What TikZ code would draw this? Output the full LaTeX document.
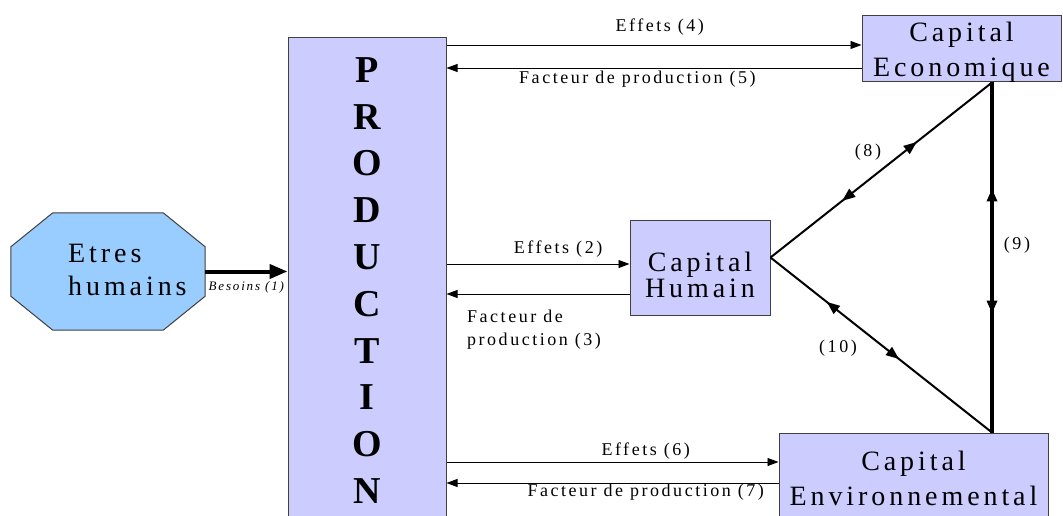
\documentclass[tikz,border=0pt]{standalone}
\usepackage{fontspec}
\setmainfont{Liberation Serif}[LetterSpace=14]
\usetikzlibrary{arrows.meta,decorations.markings}
\definecolor{boxc}{HTML}{CCCCFF}
\definecolor{octc}{HTML}{99CCFF}

\begin{document}
\begin{tikzpicture}[x=1pt,y=-1pt,
  box/.style={rectangle,draw=black!75,fill=boxc,line width=1pt,inner sep=0pt},
  big/.style={font=\fontsize{28}{35}\selectfont,align=center},
  lbl/.style={font=\fontsize{18}{22}\selectfont,inner sep=1pt},
  arr/.style={line width=0.9pt,-{Triangle[length=11pt,width=8pt]}},
  twoway/.style n args={3}{line width=#1,postaction={decorate},decoration={markings,
    mark=at position #2 with {\arrow{Triangle[reversed,length=13pt,width=10pt]}},
    mark=at position #3 with {\arrow{Triangle[length=13pt,width=10pt]}}}}]
\useasboundingbox (0,0) rectangle (1063,516);
\clip (0,0) rectangle (1063,516);

% octogone
\node[minimum width=194pt,minimum height=117pt,inner sep=0pt] (etres) at (108,271.5) {};
\draw[draw=black!75,fill=octc,line width=1pt] ([xshift=42pt]etres.north west) -- ([xshift=-42pt]etres.north east)
  -- ([yshift=-34pt]etres.north east) -- ([yshift=34pt]etres.south east) -- ([xshift=-42pt]etres.south east)
  -- ([xshift=42pt]etres.south west) -- ([yshift=34pt]etres.south west) -- ([yshift=-34pt]etres.north west) -- cycle;
\node[big,align=left,anchor=west,inner sep=0pt,font=\fontsize{28}{33}\selectfont] (etrestxt) at (68,269.5) {Etres\\humains};

% boites
\node[box,minimum width=158pt,minimum height=485pt,align=center,
  font=\bfseries\fontsize{38}{46.8}\selectfont] (prod) at (367,280.5) {P\\R\\O\\D\\U\\C\\T\\I\\O\\N};

\node[box,minimum width=199pt,minimum height=66pt,label={[big,yshift=-3pt]center:{Capital\\Economique}}] (eco) at (961.5,49) {};
\node[box,minimum width=140pt,minimum height=95pt,label={[big,font=\fontsize{28}{26}\selectfont,yshift=-7pt]center:{Capital\\Humain}}] (hum) at (700,267.5) {};
\node[box,minimum width=269pt,minimum height=90pt,label={[big]center:{Capital\\Environnemental}}] (env) at (913.5,478) {};

% besoins
\draw[line width=4pt,-{Triangle[length=18pt,width=14pt]}] (etres.east) -- (prod.west |- etres.east)
  node[lbl,midway,below=7pt,font=\itshape\fontsize{13}{15}\selectfont] {Besoins (1)};

% flux production / capitaux
\draw[arr] (prod.east |- 0,45) -- (eco.west |- 0,45) node[lbl,pos=.514,above=8pt] {Effets (4)};
\draw[arr] (eco.west |- 0,68) -- (prod.east |- 0,68) node[lbl,pos=.54,below=2pt] {Facteur de production (5)};
\draw[arr] (prod.east |- 0,264) -- (hum.west |- 0,264) node[lbl,pos=.61,above=5pt] {Effets (2)};
\draw[arr] (hum.west |- 0,294) -- (prod.east |- 0,294);
\node[lbl,align=left,anchor=north west,font=\fontsize{18}{23}\selectfont] (f3) at (466,309) {Facteur de\\production (3)};
\draw[arr] (prod.east |- 0,462) -- (env.west |- 0,462) node[lbl,pos=.6,above=1pt] {Effets (6)};
\draw[arr] (env.west |- 0,483) -- (prod.east |- 0,483) node[lbl,pos=.4,below=0pt] {Facteur de production (7)};

% triangle
\coordinate (ch) at ([yshift=10pt]hum.east);
\coordinate (ce) at ([xshift=30.5pt]eco.south);
\coordinate (cv) at ([xshift=78.5pt]env.north);
\draw[twoway={2pt}{.37}{.66}] (ch) -- (ce);
\draw[twoway={2pt}{.30}{.58}] (ch) -- (cv);
\draw[twoway={3.5pt}{.34}{.66}] (ce) -- (cv);
\node[lbl] (n8) at (868,152) {(8)};
\node[lbl] (n9) at (1017,245) {(9)};
\node[lbl] (n10) at (838,348) {(10)};

\end{tikzpicture}
\end{document}
